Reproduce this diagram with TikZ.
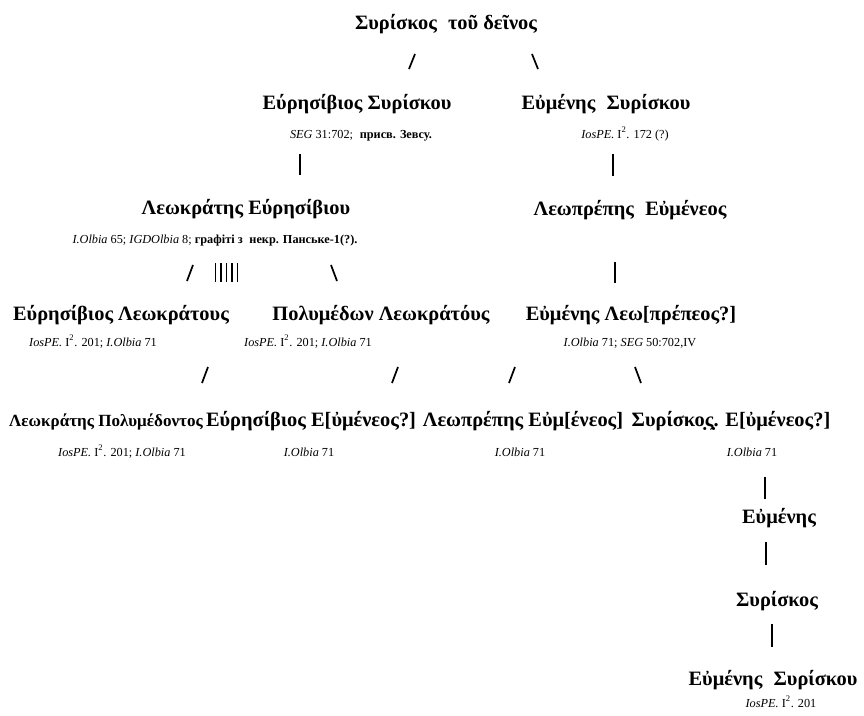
\documentclass[tikz,border=0pt]{standalone}
\usepackage{fontspec}
\setmainfont{Liberation Serif}
\newcommand{\nmfont}{\fontsize{15.3}{18}\selectfont\bfseries}
\newcommand{\nmsmall}{\fontsize{12.8}{15}\selectfont\bfseries}
\newcommand{\rffont}{\fontsize{9.2}{11}\selectfont}
\newcommand{\wsp}{\hspace{0.55em}}
\begin{document}
\begin{tikzpicture}[x=0.75pt,y=-0.75pt,
  nm/.style={font=\nmfont, anchor=base, inner sep=0pt},
  nmsm/.style={font=\nmsmall, anchor=base, inner sep=0pt},
  rf/.style={font=\rffont, anchor=base, inner sep=0pt},
  link/.style={line width=1.3pt}]
\useasboundingbox[fill=white] (0,0) rectangle (864,715);

% names
\node[nm] (root) at (446,29) {Συρίσκος\wsp τοῦ δεῖνος};
\node[nm] (es) at (357,109) {Εύρησίβιος Συρίσκου};
\node[nm] (eus) at (606,109) {Εὐμένης\wsp Συρίσκου};
\node[rf] (rseg) at (361,138) {\textit{SEG} 31:702;\wsp\textbf{присв. Зевсу.}};
\node[rf] (r172) at (625,138) {\textit{IosPE.} I\textsuperscript{2}. 172 (?)};

\node[nm] (le) at (246,214) {Λεωκράτης Εύρησίβιου};
\node[nm] (lpe) at (630,215) {Λεωπρέπης\wsp Εὐμένεος};
\node[rf] (r65) at (215,243) {\textit{I.Olbia} 65; \textit{IGDOlbia} 8; \textbf{графіті з\wsp некр. Панське-1(?).}};

\node[nm] (el) at (121,320) {Εύρησίβιος Λεωκράτους};
\node[nm] (pl) at (381,320) {Πολυμέδων Λεωκράτόυς};
\node[nm] (elw) at (631,320) {Εὐμένης Λεω[πρέπεος?]};
\node[rf] (r1) at (93,346) {\textit{IosPE.} I\textsuperscript{2}. 201; \textit{I.Olbia} 71};
\node[rf] (r2) at (308,346) {\textit{IosPE.} I\textsuperscript{2}. 201; \textit{I.Olbia} 71};
\node[rf] (r3) at (630,346) {\textit{I.Olbia} 71; \textit{SEG} 50:702,IV};

\node[nmsm] (lp) at (106,426) {Λεωκράτης Πολυμέδοντος};
\node[nm] (ee) at (311,426) {Εύρησίβιος Ε[ὐμένεος?]};
\node[nm] (lee) at (523,426) {Λεωπρέπης Εὐμ[ένεος]};
\node[nm] (se) at (731,426) {Συρίσκο̣ς̣. Ε[ὐμένεος?]};
\node[rf] (q1) at (122,456) {\textit{IosPE.} I\textsuperscript{2}. 201; \textit{I.Olbia} 71};
\node[rf] (q2) at (309,456) {\textit{I.Olbia} 71};
\node[rf] (q3) at (520,456) {\textit{I.Olbia} 71};
\node[rf] (q4) at (752,456) {\textit{I.Olbia} 71};

\node[nm] (eu) at (779,523) {Εὐμένης};
\node[nm] (sy) at (777,606) {Συρίσκος};
\node[nm] (eusy) at (773,685) {Εὐμένης\wsp Συρίσκου};
\node[rf] (r201) at (781,707) {\textit{IosPE.} I\textsuperscript{2}. 201};

% connector marks
\coordinate (a1) at (415,54); \coordinate (a2) at (409,69);
\coordinate (b1) at (532,54); \coordinate (b2) at (538,69);
\draw[link] (a1) -- (a2); \draw[link] (b1) -- (b2);

\coordinate (c1) at (300,154); \coordinate (c2) at (300,175);
\coordinate (d1) at (613,154); \coordinate (d2) at (613,176);
\draw[link] (c1) -- (c2); \draw[link] (d1) -- (d2);

\coordinate (e1) at (193,265); \coordinate (e2) at (187,281);
\draw[link] (e1) -- (e2);
\foreach \i/\xx in {1/215.5,2/221,3/226.5,4/232,5/237.5}{
  \coordinate (v\i a) at (\xx,263); \coordinate (v\i b) at (\xx,282);
  \draw[link] (v\i a) -- (v\i b);
}
\coordinate (f1) at (331,265); \coordinate (f2) at (337,281);
\draw[link] (f1) -- (f2);
\coordinate (g1) at (615,262); \coordinate (g2) at (615,283);
\draw[link] (g1) -- (g2);

\coordinate (h1) at (208,367); \coordinate (h2) at (202,383);
\coordinate (i1) at (398,367); \coordinate (i2) at (392,383);
\coordinate (j1) at (515,367); \coordinate (j2) at (509,383);
\coordinate (k1) at (635,367); \coordinate (k2) at (641,383);
\draw[link] (h1) -- (h2); \draw[link] (i1) -- (i2);
\draw[link] (j1) -- (j2); \draw[link] (k1) -- (k2);

\coordinate (l1) at (765,477); \coordinate (l2) at (765,499);
\coordinate (m1) at (766,542); \coordinate (m2) at (766,565);
\coordinate (n1) at (772,624); \coordinate (n2) at (772,647);
\draw[link] (l1) -- (l2); \draw[link] (m1) -- (m2); \draw[link] (n1) -- (n2);
\end{tikzpicture}
\end{document}
